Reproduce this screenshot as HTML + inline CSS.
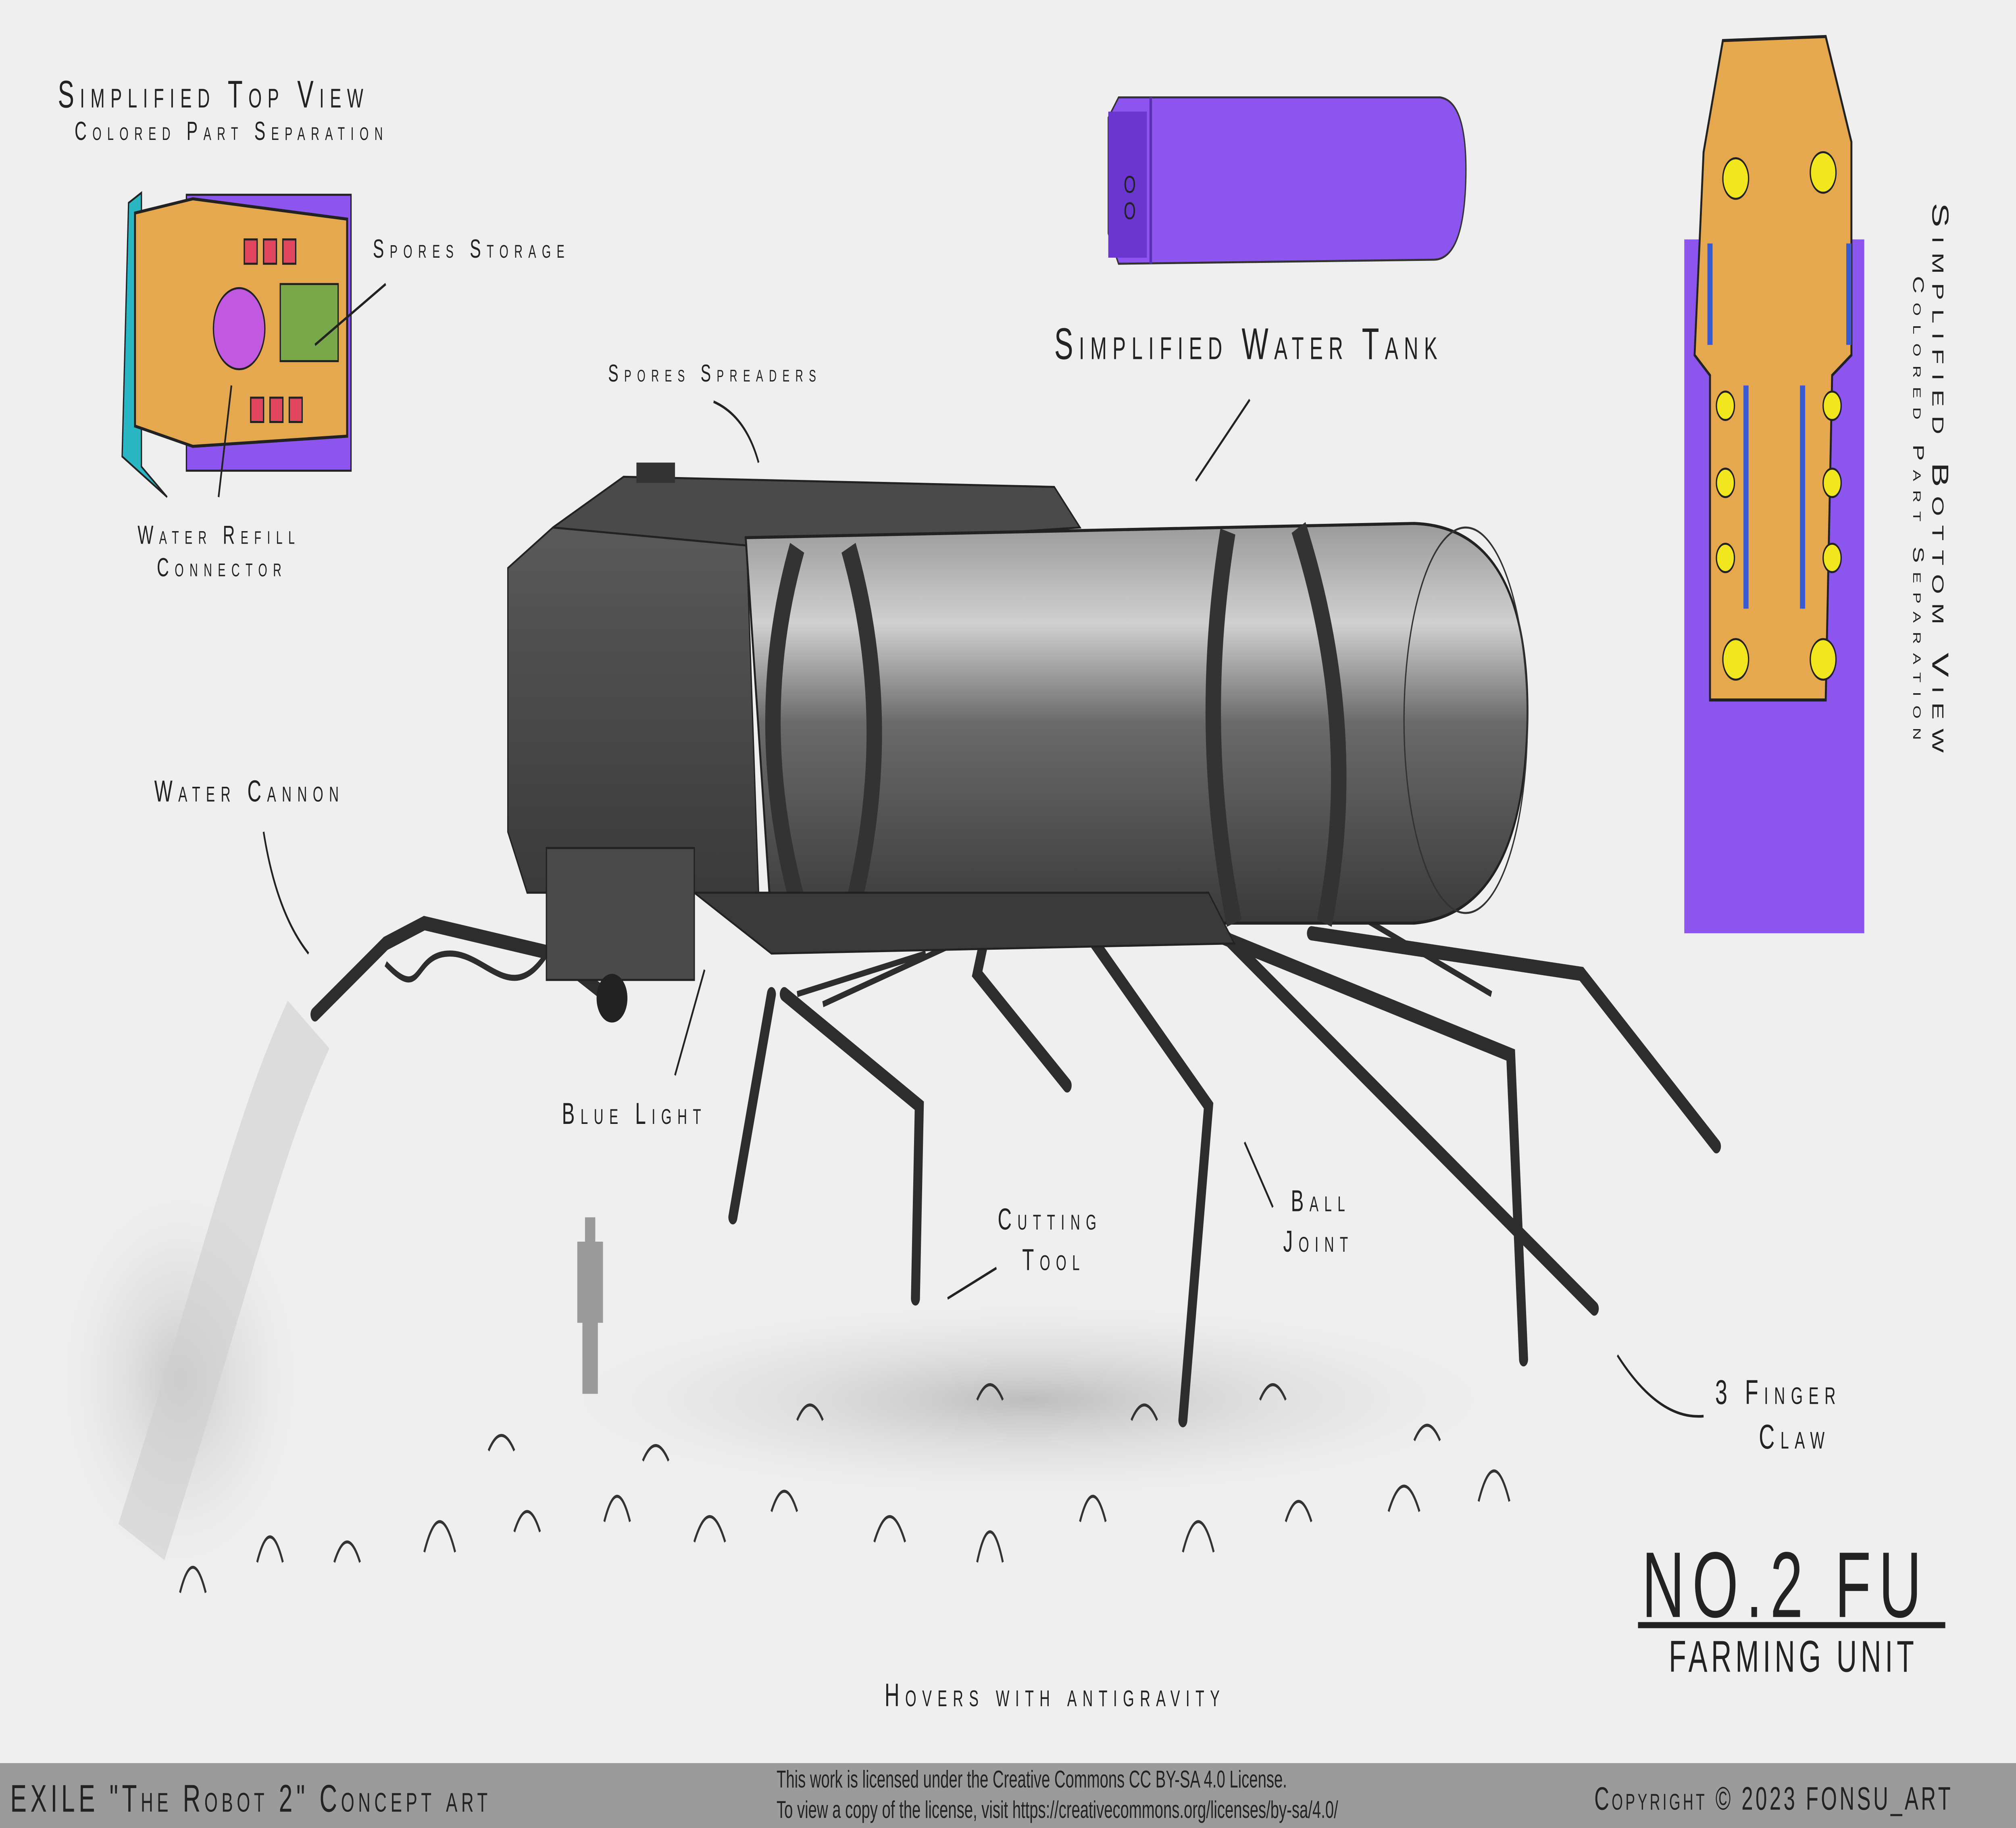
<!DOCTYPE html>
<html><head><meta charset="utf-8"><style>
html,body{margin:0;padding:0;background:#efefef;width:100%;height:100%;overflow:hidden;}
svg{display:block;width:100vw;height:100vh;}
text{font-family:"Liberation Sans",sans-serif;fill:#222;}
.sc{font-variant:small-caps;}
</style></head><body>
<svg viewBox="0 0 1568 901" preserveAspectRatio="none" xmlns="http://www.w3.org/2000/svg">
<defs>
<linearGradient id="tank" x1="0" y1="0" x2="0" y2="1">
<stop offset="0" stop-color="#9a9a9a"/><stop offset="0.25" stop-color="#d0d0d0"/><stop offset="0.5" stop-color="#6a6a6a"/><stop offset="1" stop-color="#3a3a3a"/></linearGradient>
<linearGradient id="body" x1="0" y1="0" x2="0" y2="1">
<stop offset="0" stop-color="#5a5a5a"/><stop offset="1" stop-color="#3a3a3a"/></linearGradient>
<radialGradient id="shadow" cx="0.5" cy="0.5" r="0.5"><stop offset="0" stop-color="#bdbdbd"/><stop offset="1" stop-color="#efefef" stop-opacity="0"/></radialGradient>
<radialGradient id="spray" cx="0.5" cy="0.5" r="0.5"><stop offset="0" stop-color="#c8c8c8"/><stop offset="1" stop-color="#efefef" stop-opacity="0"/></radialGradient>
</defs>
<rect width="1568" height="901" fill="#efefef"/>
<ellipse cx="800" cy="690" rx="420" ry="55" fill="url(#shadow)"/>
<ellipse cx="140" cy="680" rx="110" ry="110" fill="url(#spray)"/>
<path d="M240 505 C200 560 180 620 110 760" stroke="#cfcfcf" stroke-width="40" fill="none" opacity="0.6"/>
<g stroke="#333" stroke-width="1.5" fill="none">
<path d="M140 785 q10-25 20 0 M200 770 q10-25 20 0 M260 770 q10-20 20 0 M330 765 q12-30 24 0 M400 755 q10-20 20 0 M470 750 q10-25 20 0 M540 760 q12-25 24 0 M600 745 q10-20 20 0 M680 760 q12-25 24 0 M760 770 q10-30 20 0 M840 750 q10-25 20 0 M920 765 q12-30 24 0 M1000 750 q10-20 20 0 M1080 745 q12-25 24 0 M1150 740 q12-30 24 0 M380 715 q10-15 20 0 M500 720 q10-15 20 0 M620 700 q10-15 20 0 M760 690 q10-15 20 0 M880 700 q10-15 20 0 M980 690 q10-15 20 0 M1100 710 q10-15 20 0"/>
</g>
<path d="M455 600 h8 v12 h6 v40 h-4 v35 h-12 v-35 h-4 v-40 h6z" fill="#9a9a9a"/>
<g stroke="#2d2d2d" stroke-width="7" fill="none" stroke-linecap="round">
<path d="M600 490 L570 600"/><path d="M610 490 L715 545 L712 640"/>
<path d="M770 450 L760 480 L830 535"/>
<path d="M835 450 L940 545 L920 700"/>
<path d="M885 445 L1175 520 L1185 670"/>
<path d="M935 450 L1240 645"/>
<path d="M1020 460 L1230 480 L1335 565"/>
<path d="M470 490 L430 470 L330 455 L300 465 L245 500"/>
</g>
<g stroke="#2d2d2d" stroke-width="3" fill="none">
<path d="M620 490 L720 470 M640 495 L760 460 M1040 445 L1160 490"/>
<path d="M430 465 C400 500 380 470 350 470 C320 470 330 495 300 475"/>
</g>
<path d="M395 280 L430 260 L580 255 L590 440 L410 440 L395 410Z" fill="url(#body)" stroke="#222"/>
<path d="M430 260 L485 235 L820 240 L840 260 L600 270 Z" fill="#4a4a4a" stroke="#222"/>
<rect x="495" y="228" width="30" height="10" fill="#333"/>
<rect x="425" y="418" width="115" height="65" fill="#4a4a4a" stroke="#222"/>
<circle cx="476" cy="492" r="12" fill="#222"/>
<path d="M580 265 L1100 258 Q1190 260 1188 355 Q1185 450 1100 455 L600 455 Z" fill="url(#tank)" stroke="#222" stroke-width="1.5"/>
<ellipse cx="1140" cy="355" rx="48" ry="95" fill="none" stroke="#333"/>
<path d="M620 270 Q580 360 625 455 M660 270 Q700 360 660 455 M955 262 Q930 360 960 455 M1010 260 Q1060 360 1030 455" stroke="#333" stroke-width="12" fill="none"/>
<path d="M540 440 L940 440 L960 465 L600 470 Z" fill="#3a3a3a" stroke="#222"/>
<path d="M870 48 L1120 48 Q1142 50 1140 90 Q1138 128 1115 128 L870 130 L862 115 L862 58Z" fill="#8c55ee" stroke="#333"/>
<path d="M895 48 L895 130" stroke="#5a2fb8" stroke-width="2"/>
<rect x="862" y="55" width="30" height="72" fill="#6a36d0"/>
<text x="874" y="95" font-size="12">O</text><text x="874" y="108" font-size="12">O</text>
<rect x="145" y="96" width="128" height="136" fill="#8c55ee" stroke="#222"/>
<path d="M100 100 L110 95 L110 230 L130 245 L95 225Z" fill="#2bb6c4" stroke="#222"/>
<path d="M105 105 L150 98 L270 108 L270 215 L150 220 L105 210Z" fill="#e6a84e" stroke="#222" stroke-width="1.5"/>
<circle cx="186" cy="162" r="20" fill="#c058e0" stroke="#222"/>
<rect x="218" y="140" width="45" height="38" fill="#78a84a" stroke="#222"/>
<g fill="#e0455e" stroke="#222"><rect x="190" y="118" width="10" height="12"/><rect x="205" y="118" width="10" height="12"/><rect x="220" y="118" width="10" height="12"/><rect x="195" y="196" width="10" height="12"/><rect x="210" y="196" width="10" height="12"/><rect x="225" y="196" width="10" height="12"/></g>
<rect x="1310" y="118" width="140" height="342" fill="#8c55ee"/>
<path d="M1325 75 L1340 20 L1420 18 L1440 70 L1440 175 L1425 185 L1420 345 L1330 345 L1330 185 L1318 175Z" fill="#e6a84e" stroke="#222" stroke-width="1.5"/>
<g fill="#f2e61e" stroke="#222"><circle cx="1350" cy="88" r="10"/><circle cx="1418" cy="85" r="10"/><circle cx="1350" cy="325" r="10"/><circle cx="1418" cy="325" r="10"/><circle cx="1342" cy="200" r="7"/><circle cx="1342" cy="238" r="7"/><circle cx="1342" cy="275" r="7"/><circle cx="1425" cy="200" r="7"/><circle cx="1425" cy="238" r="7"/><circle cx="1425" cy="275" r="7"/></g>
<g stroke="#3a5ad0" stroke-width="4"><path d="M1358 190 V300 M1402 190 V300 M1330 120 V170 M1438 120 V170"/></g>
<g stroke="#222" stroke-width="1.3" fill="none">
<path d="M205 410 Q215 450 240 470"/><path d="M525 530 L548 478"/><path d="M555 198 Q580 205 590 228"/>
<path d="M930 237 L972 197"/><path d="M775 625 L737 640"/><path d="M990 595 L968 563"/>
<path d="M1325 698 Q1290 700 1258 668"/><path d="M300 140 L245 170"/><path d="M170 245 L180 190"/>
</g>
<g class="sc" style="letter-spacing:4.5px">
<text x="45" y="53" font-size="19">Simplified Top View</text>
<text x="58" y="69" font-size="13">Colored Part Separation</text>
<text x="290" y="127" font-size="13">Spores Storage</text>
<text x="473" y="188" font-size="12">Spores Spreaders</text>
<text x="107" y="268" font-size="13">Water Refill</text>
<text x="122" y="284" font-size="13">Connector</text>
<text x="120" y="395" font-size="15">Water Cannon</text>
<text x="820" y="177" font-size="22">Simplified Water Tank</text>
<text x="437" y="554" font-size="15">Blue Light</text>
<text x="776" y="606" font-size="15">Cutting</text>
<text x="795" y="626" font-size="15">Tool</text>
<text x="1004" y="597" font-size="15">Ball</text>
<text x="998" y="617" font-size="15">Joint</text>
<text x="1334" y="692" font-size="17">3 Finger</text>
<text x="1368" y="714" font-size="17">Claw</text>
<text x="688" y="841" font-size="16">Hovers with antigravity</text>
</g>
<text x="1298" y="824" font-size="22" style="letter-spacing:3px">FARMING UNIT</text>
<text x="1277" y="797" font-size="46" style="letter-spacing:6px">NO.2 FU</text>
<line x1="1274" y1="801" x2="1513" y2="801" stroke="#222" stroke-width="3"/>
<g class="sc" transform="translate(1503,100) rotate(90)" style="letter-spacing:4.5px"><text x="0" y="0" font-size="18">Simplified Bottom View</text><text x="36" y="15" font-size="12">Colored Part Separation</text></g>
<rect x="0" y="869" width="1568" height="32" fill="#9b9b9b"/>
<text class="sc" x="8" y="893" font-size="19" style="letter-spacing:3px">EXILE "The Robot 2" Concept art</text>
<text x="604" y="881" font-size="12">This work is licensed under the Creative Commons CC BY-SA 4.0 License.</text>
<text x="604" y="896" font-size="12">To view a copy of the license, visit https://creativecommons.org/licenses/by-sa/4.0/</text>
<text class="sc" x="1240" y="892" font-size="16" style="letter-spacing:2px">Copyright © 2023 FONSU_ART</text>
</svg>
</body></html>
